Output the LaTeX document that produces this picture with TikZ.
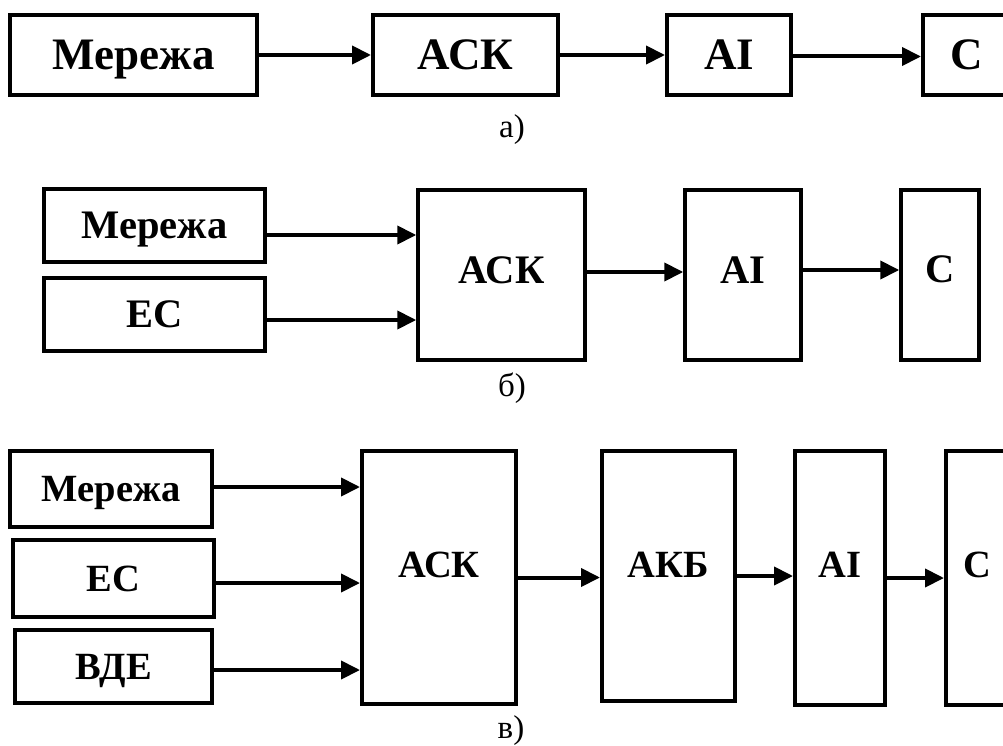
\documentclass[tikz,border=0pt]{standalone}
\usepackage{fontspec}
\setmainfont{Liberation Serif}
\usetikzlibrary{arrows.meta}
\begin{document}
\begin{tikzpicture}[x=1pt,y=-1pt,
  blk/.style={draw=black, line width=4pt, inner sep=0pt, minimum width=#1},
  ta/.style={font=\bfseries\fontsize{45}{45}\selectfont, text height=29.8pt, text depth=0pt},
  tb/.style={font=\bfseries\fontsize{40.5}{40.5}\selectfont, text height=26.8pt, text depth=0pt},
  tc/.style={font=\bfseries\fontsize{38.5}{38.5}\selectfont, text height=25.5pt, text depth=0pt},
  sublbl/.style={font=\fontsize{33}{33}\selectfont, inner sep=0pt, anchor=base},
  arr/.style={line width=4pt, -{Triangle[length=19pt,width=18pt]}}
]
\useasboundingbox[fill=white] (0,0) rectangle (1003,746);

% --- variant а) ---
\node[blk=247, minimum height=80, ta] (m1) at (133.5,55) {Мережа};
\node[blk=185, minimum height=80, ta] (a1) at (465.5,55) {АСК};
\node[blk=124, minimum height=80, ta] (i1) at (729,55) {АІ};
\node[blk=88,  minimum height=80, ta] (c1) at (967,55) {С};
\draw[arr] (m1.east) -- (a1.west);
\draw[arr] (a1.east) -- (i1.west);
\draw[arr] ([yshift=-1.5pt]i1.east) -- ([yshift=-1.5pt]c1.west);
\node[sublbl] (la) at (512,138) {а)};

% --- variant б) ---
\begin{scope}[blk/.append style={line width=3.5pt}]
\node[blk=221, minimum height=73, tb] (m2) at (154.5,225.5) {Мережа};
\node[blk=221, minimum height=73, tb] (e2) at (154.5,314.5) {ЕС};
\node[blk=167, minimum height=170] (a2) at (501.5,275) {};
\node[blk=116, minimum height=170] (i2) at (743,275) {};
\node[blk=78,  minimum height=170] (c2) at (940,275) {};
\end{scope}
\node[tb] (ta2) at ([yshift=5pt]a2.center) {АСК};
\node[tb] (ti2) at ([yshift=5pt]i2.center) {АІ};
\node[tb] (tc2) at ([yshift=6pt]c2.center) {С};
\draw[arr] ([yshift=-9.5pt]m2.east) -- ([yshift=-9.5pt]m2.east -| a2.west);
\draw[arr] ([yshift=-5.5pt]e2.east) -- ([yshift=-5.5pt]e2.east -| a2.west);
\draw[arr] ([yshift=3pt]a2.east) -- ([yshift=3pt]a2.east -| i2.west);
\draw[arr] ([yshift=5pt]i2.east) -- ([yshift=5pt]i2.east -| c2.west);
\node[sublbl] (lb) at (512,396) {б)};

% --- variant в) ---
\node[blk=202, minimum height=76, tc] (m3) at (111,489) {Мережа};
\node[blk=201, minimum height=77, tc] (e3) at (113.5,578.5) {ЕС};
\node[blk=197, minimum height=73, tc] (v3) at (113.5,666.5) {ВДЕ};
\node[blk=154, minimum height=253] (a3) at (439,577.5) {};
\node[blk=133, minimum height=250] (b3) at (668.5,576) {};
\node[blk=90,  minimum height=254] (i3) at (840,578) {};
\node[blk=62,  minimum height=254] (c3) at (977,578) {};
\node[tc] (ta3) at ([yshift=12.5pt]a3.center) {АСК};
\node[tc] (tb3) at ([yshift=11pt]b3.center) {АКБ};
\node[tc] (ti3) at ([yshift=13pt]i3.center) {АІ};
\node[tc] (tc3) at ([yshift=13pt]c3.center) {С};
\draw[arr] ([yshift=2pt]m3.east) -- ([yshift=2pt]m3.east -| a3.west);
\draw[arr] ([yshift=-4.5pt]e3.east) -- ([yshift=-4.5pt]e3.east -| a3.west);
\draw[arr] ([yshift=-3.5pt]v3.east) -- ([yshift=-3.5pt]v3.east -| a3.west);
\draw[arr] (a3.east) -- (a3.east -| b3.west);
\draw[arr] (b3.east) -- (b3.east -| i3.west);
\draw[arr] (i3.east) -- (i3.east -| c3.west);
\node[sublbl] (lc) at (511,738) {в)};
\end{tikzpicture}
\end{document}
